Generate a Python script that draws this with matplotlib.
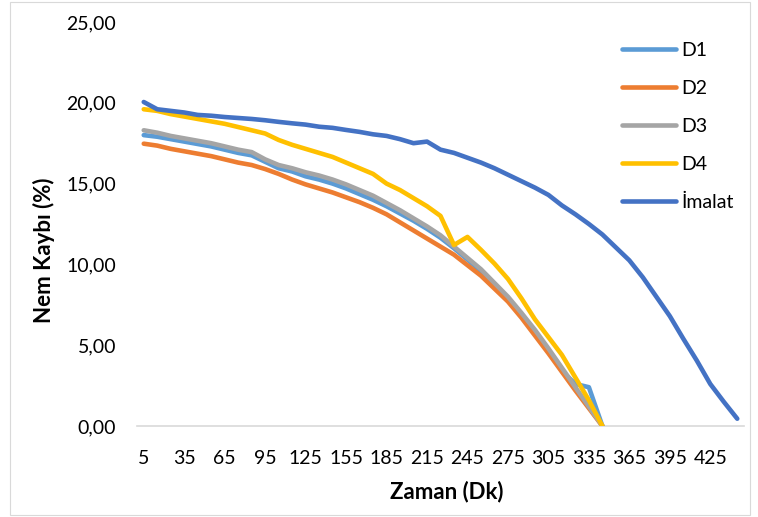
import matplotlib
matplotlib.use("Agg")
import matplotlib.pyplot as plt
from matplotlib.patches import Rectangle

plt.rcParams['font.family'] = ['Lato', 'DejaVu Sans']

# Zaman (Dk) categories: 5, 15, ..., 445
zaman = list(range(5, 446, 10))
tick_labels = [str(z) for z in zaman[::3]]

d1 = [18.0, 17.9, 17.75, 17.6, 17.45, 17.3, 17.1, 16.9, 16.75, 16.35,
      15.95, 15.75, 15.45, 15.25, 15.0, 14.7, 14.35, 14.0, 13.6, 13.15,
      12.7, 12.2, 11.65, 11.0, 10.3, 9.6, 8.75, 7.9, 6.9, 5.8,
      4.7, 3.4, 2.6, 2.4, 0.0]
d2 = [17.47, 17.35, 17.15, 17.0, 16.85, 16.7, 16.5, 16.3, 16.15, 15.9,
      15.6, 15.25, 14.95, 14.7, 14.45, 14.15, 13.85, 13.5, 13.1, 12.6,
      12.1, 11.6, 11.1, 10.6, 9.95, 9.3, 8.5, 7.7, 6.7, 5.6,
      4.5, 3.35, 2.2, 1.1, 0.0]
d3 = [18.3, 18.15, 17.95, 17.8, 17.65, 17.5, 17.3, 17.1, 16.95, 16.5,
      16.15, 15.95, 15.7, 15.5, 15.25, 14.95, 14.6, 14.25, 13.8, 13.35,
      12.85, 12.35, 11.8, 11.1, 10.4, 9.7, 8.85, 8.0, 7.0, 5.95,
      4.8, 3.6, 2.4, 1.2, 0.0]
d4 = [19.6, 19.5, 19.3, 19.15, 19.0, 18.85, 18.7, 18.5, 18.3, 18.1,
      17.7, 17.4, 17.15, 16.9, 16.65, 16.3, 15.95, 15.6, 15.0, 14.6,
      14.1, 13.6, 13.0, 11.2, 11.7, 10.9, 10.05, 9.1, 7.9, 6.6,
      5.5, 4.4, 3.0, 1.6, 0.0]
imalat = [20.05, 19.6, 19.5, 19.4, 19.25, 19.2, 19.12, 19.06, 19.0, 18.92,
          18.82, 18.73, 18.65, 18.52, 18.45, 18.32, 18.2, 18.05, 17.95, 17.75,
          17.5, 17.6, 17.1, 16.9, 16.6, 16.3, 15.95, 15.55, 15.15, 14.75,
          14.3, 13.65, 13.1, 12.5, 11.85, 11.05, 10.25, 9.2, 8.0, 6.8,
          5.4, 4.05, 2.6, 1.5, 0.45]

series = [("D1", d1, "#5B9BD5"), ("D2", d2, "#ED7D31"), ("D3", d3, "#A5A5A5"),
          ("D4", d4, "#FFC000"), ("İmalat", imalat, "#4472C4")]

W, H = 758, 517
fig = plt.figure(figsize=(W / 100, H / 100), dpi=100)
fig.patches.append(Rectangle((10 / W, 2 / H), 740 / W, 513 / H, transform=fig.transFigure,
                             fill=False, edgecolor="#D9D9D9", lw=0.8))

ax = fig.add_axes([137 / W, 1 - 426 / H, 607 / W, 404 / H])
for name, vals, color in series:
    ax.plot(range(len(vals)), vals, color=color, lw=3.3, label=name,
            solid_joinstyle="round", solid_capstyle="round")

ax.set_xlim(-0.5, len(zaman) - 0.5)
ax.set_ylim(0, 25)
ax.set_xticks(range(0, len(zaman), 3))
ax.set_xticklabels(tick_labels)
ax.set_yticks(range(0, 26, 5))
ax.set_yticklabels([f"{v},00" for v in range(0, 26, 5)])
ax.tick_params(length=0, labelsize=14, colors="black")
ax.tick_params(axis="x", pad=17)
ax.tick_params(axis="y", pad=15)
for s in ["top", "right", "left"]:
    ax.spines[s].set_visible(False)
ax.spines["bottom"].set_color("#D9D9D9")
ax.spines["bottom"].set_linewidth(1.2)
ax.spines["bottom"].set_zorder(0)

ax.set_xlabel("Zaman (Dk)", fontsize=16, fontweight="bold", va="center")
ax.set_ylabel("Nem Kaybı (%)", fontsize=16, fontweight="bold", va="center")
ax.xaxis.set_label_coords(0.511, -0.163)
ax.yaxis.set_label_coords(-0.153, 0.436)

ax.legend(loc="upper left", bbox_to_anchor=(612 / W, 1 - 32 / H), bbox_transform=fig.transFigure,
          frameon=False, fontsize=14, handlelength=2.8, handletextpad=0.25,
          labelspacing=1.08, borderpad=0)

fig.savefig("out.png", dpi=100)
